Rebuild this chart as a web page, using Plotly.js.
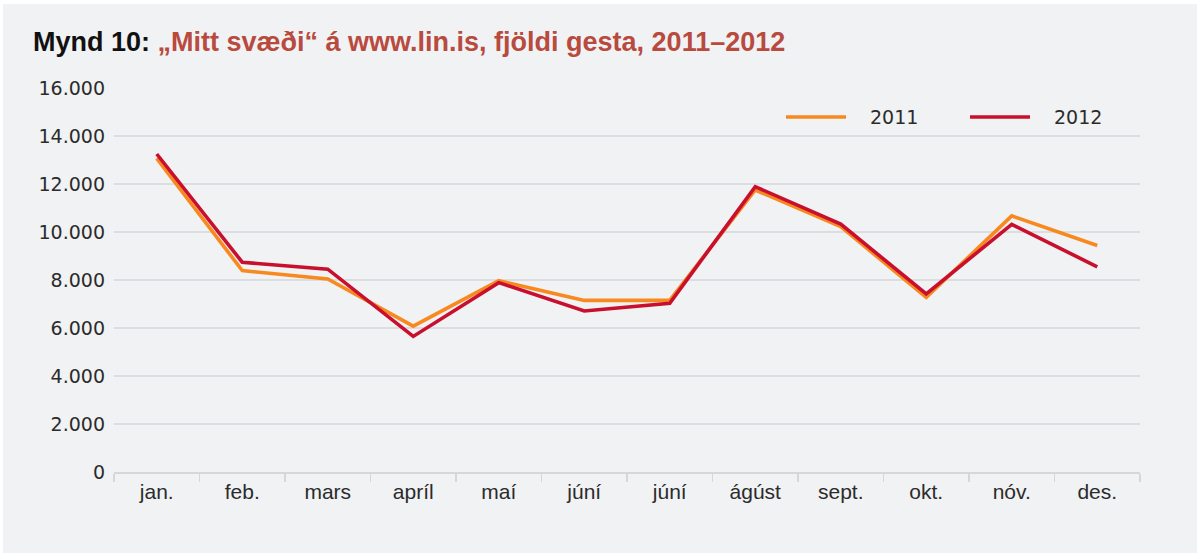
<!DOCTYPE html>
<html>
<head>
<meta charset="utf-8">
<script src="https://cdn.plot.ly/plotly-3.0.1.min.js"></script>
<style>
html,body{margin:0;padding:0;background:#ffffff;}
#chart{width:1197px;height:553px;}
</style>
</head>
<body>
<div id="chart"></div>
<script>
// Data
const months = ["jan.", "feb.", "mars", "apríl", "maí", "júní", "júní", "ágúst", "sept.", "okt.", "nóv.", "des."];
const visits2011 = [13070, 8390, 8040, 6080, 7970, 7150, 7150, 11750, 10220, 7280, 10670, 9440];
const visits2012 = [13250, 8740, 8450, 5650, 7890, 6710, 7030, 11890, 10330, 7420, 10320, 8550];
const seriesNames = ["2011", "2012"];
const yTicks = [0, 2000, 4000, 6000, 8000, 10000, 12000, 14000, 16000];

const colors = ["#f7891f", "#c8102e"];
const W = 1197, H = 553;
const L = 114, R = 1140, T = 88, B = 472;
const px = x => (x - L) / (R - L);
const py = y => (B - y) / (B - T);

const idx = months.map((m, i) => i);
const boundaries = months.map((m, i) => i - 0.5).concat([months.length - 0.5]);

const traces = [visits2011, visits2012].map((vals, k) => ({
  type: "scatter",
  mode: "lines",
  name: seriesNames[k],
  x: idx,
  y: vals,
  line: {color: colors[k], width: 3.6},
  showlegend: false,
  hoverinfo: "x+y"
}));

// manual legend (long line swatches like the reference)
const legendItems = [
  {x0: 786, x1: 846, tx: 868, name: seriesNames[0], color: colors[0]},
  {x0: 970, x1: 1030, tx: 1052, name: seriesNames[1], color: colors[1]}
];
const shapes = [
  {type: "rect", xref: "paper", yref: "paper", x0: px(3), x1: px(W + 5), y0: py(H + 5), y1: py(4),
   fillcolor: "#f1f2f4", line: {width: 0}, layer: "below"}
];
const annotations = [];
legendItems.forEach(it => {
  shapes.push({type: "line", xref: "paper", yref: "paper", x0: px(it.x0), x1: px(it.x1), y0: py(117), y1: py(117),
    line: {color: it.color, width: 3.6}});
  annotations.push({xref: "paper", yref: "paper", x: px(it.tx), y: py(117), xanchor: "left", yanchor: "middle",
    text: it.name, showarrow: false, font: {family: "DejaVu Sans", size: 19, color: "#2b2b2b"}});
});

const layout = {
  width: W, height: H,
  paper_bgcolor: "#ffffff",
  plot_bgcolor: "rgba(0,0,0,0)",
  separators: ",.",
  margin: {l: L, r: W - R, t: T, b: H - B, pad: 0},
  title: {
    text: "<b>Mynd 10: <span style=\"color:#b84a3e\">„Mitt svæði“ á www.lin.is, fjöldi gesta, 2011–2012</span></b>",
    x: 33 / W, xanchor: "left", xref: "container",
    y: 1 - 42 / H, yanchor: "middle", yref: "container",
    font: {family: "Liberation Sans, Arial, sans-serif", size: 27, color: "#111111"}
  },
  xaxis: {
    type: "linear",
    range: [-0.5, months.length - 0.5],
    tickmode: "array",
    tickvals: idx,
    ticktext: months,
    ticks: "",
    showgrid: false,
    zeroline: false,
    showline: true,
    linecolor: "#d6d7d9",
    linewidth: 1.5,
    tickfont: {family: "Liberation Sans, Arial, sans-serif", size: 21, color: "#2b2b2b"},
    ticklabelstandoff: 0,
    minor: {tickmode: "array", tickvals: boundaries, ticks: "outside", ticklen: 8, tickcolor: "#d6d7d9", tickwidth: 1.5, showgrid: false},
    fixedrange: true
  },
  yaxis: {
    range: [0, 16000],
    tickmode: "array",
    tickvals: yTicks,
    tickformat: ",.0f",
    showgrid: true,
    gridcolor: "#dcdde0",
    gridwidth: 1.5,
    zeroline: false,
    showline: false,
    ticks: "",
    tickfont: {family: "DejaVu Sans", size: 19, color: "#2b2b2b"},
    ticklabelstandoff: 8,
    fixedrange: true
  },
  shapes: shapes,
  annotations: annotations,
  showlegend: false
};

Plotly.newPlot("chart", traces, layout, {displayModeBar: false, staticPlot: true});
</script>
</body>
</html>
